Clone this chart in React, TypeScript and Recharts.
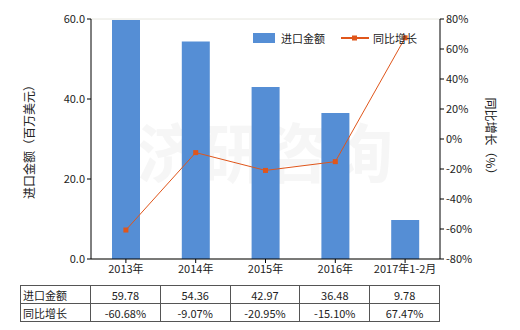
import {
  Bar,
  CartesianGrid,
  ComposedChart,
  Line,
  XAxis,
  YAxis,
} from "recharts";

const categories = ["2013年", "2014年", "2015年", "2016年", "2017年1-2月"];
const importValues = [59.78, 54.36, 42.97, 36.48, 9.78];
const yoyGrowth = [-60.68, -9.07, -20.95, -15.1, 67.47];
const leftTicks = [0, 20, 40, 60];
const rightTicks = [-80, -60, -40, -20, 0, 20, 40, 60, 80];

const BAR_COLOR = "#558ED5";
const LINE_COLOR = "#E0561B";
const FONT = '"Noto Sans CJK SC", "Noto Sans", sans-serif';

const data = categories.map((name, i) => ({
  name,
  进口金额: importValues[i],
  同比增长: yoyGrowth[i],
}));

function SquareDot(props: any) {
  const { cx, cy } = props;
  if (cx == null || cy == null) return null;
  return <rect x={cx - 2.5} y={cy - 2.5} width={5} height={5} fill={LINE_COLOR} />;
}

function LegendBox() {
  return (
    <div
      style={{
        position: "absolute",
        left: 253,
        top: 30,
        display: "flex",
        alignItems: "center",
        fontSize: 11,
        color: "#222",
        fontFamily: FONT,
      }}
    >
      <span style={{ width: 22, height: 10, background: BAR_COLOR, display: "inline-block", marginRight: 6 }} />
      <span style={{ marginRight: 16 }}>进口金额</span>
      <svg width={28} height={10} style={{ marginRight: 4 }}>
        <line x1={0} y1={5} x2={28} y2={5} stroke={LINE_COLOR} strokeWidth={2} />
        <rect x={11} y={2.5} width={5} height={5} fill={LINE_COLOR} />
      </svg>
      <span>同比增长</span>
    </div>
  );
}

const cell: React.CSSProperties = {
  border: "1px solid #555",
  textAlign: "center",
  padding: 0,
  height: 17,
  fontSize: 11,
  color: "#222",
};

export default function App() {
  return (
    <div style={{ position: "absolute", left: 0, top: 0, width: 520, height: 330, background: "#fff", fontFamily: FONT }}>
      <ComposedChart
        width={520}
        height={330}
        data={data}
        margin={{ top: 19, right: 0, bottom: 41, left: 0 }}
      >
        <CartesianGrid vertical={false} stroke="#e6e6de" />
        <XAxis
          dataKey="name"
          height={30}
          stroke="#000"
          tickSize={4}
          tick={{ fontSize: 11, fill: "#222", fontFamily: FONT }}
          interval={0}
        />
        <YAxis
          yAxisId="left"
          width={91}
          domain={[0, 60]}
          ticks={leftTicks}
          tickFormatter={(v: number) => v.toFixed(1)}
          stroke="#000"
          tickSize={4}
          tick={{ fontSize: 11, fill: "#222", fontFamily: FONT }}
          label={{
            value: "进口金额（百万美元）",
            angle: -90,
            position: "insideLeft",
            offset: 30,
            style: { fontSize: 12, fill: "#222", fontFamily: FONT, textAnchor: "middle" },
          }}
        />
        <YAxis
          yAxisId="right"
          orientation="right"
          width={80}
          domain={[-80, 80]}
          ticks={rightTicks}
          tickFormatter={(v: number) => `${v}%`}
          stroke="#000"
          tickSize={4}
          tick={{ fontSize: 11, fill: "#222", fontFamily: FONT }}
          label={{
            value: "同比增长（%）",
            angle: 90,
            position: "insideRight",
            offset: 30,
            style: { fontSize: 12, fill: "#222", fontFamily: FONT, textAnchor: "middle" },
          }}
        />
        <Bar yAxisId="left" dataKey="进口金额" fill={BAR_COLOR} barSize={28} isAnimationActive={false} />
        <Line
          yAxisId="right"
          dataKey="同比增长"
          stroke={LINE_COLOR}
          strokeWidth={1}
          dot={<SquareDot />}
          activeDot={false}
          isAnimationActive={false}
        />
        <text
          x={265}
          y={160}
          textAnchor="middle"
          dominantBaseline="middle"
          fontSize={64}
          fontWeight={700}
          fill="#dddddd"
          fillOpacity={0.25}
          fontFamily={FONT}
        >
          济研咨询
        </text>
      </ComposedChart>
      <LegendBox />
      <table
        style={{
          position: "absolute",
          left: 20,
          top: 285,
          borderCollapse: "collapse",
          tableLayout: "fixed",
          width: 419,
          fontFamily: FONT,
        }}
      >
        <colgroup>
          <col style={{ width: 70 }} />
          {categories.map((c) => (
            <col key={c} style={{ width: 69.8 }} />
          ))}
        </colgroup>
        <tbody>
          <tr>
            <td style={{ ...cell, textAlign: "left", paddingLeft: 2 }}>进口金额</td>
            {importValues.map((v, i) => (
              <td key={i} style={cell}>{v.toFixed(2)}</td>
            ))}
          </tr>
          <tr>
            <td style={{ ...cell, textAlign: "left", paddingLeft: 2 }}>同比增长</td>
            {yoyGrowth.map((v, i) => (
              <td key={i} style={cell}>{v.toFixed(2)}%</td>
            ))}
          </tr>
        </tbody>
      </table>
    </div>
  );
}
